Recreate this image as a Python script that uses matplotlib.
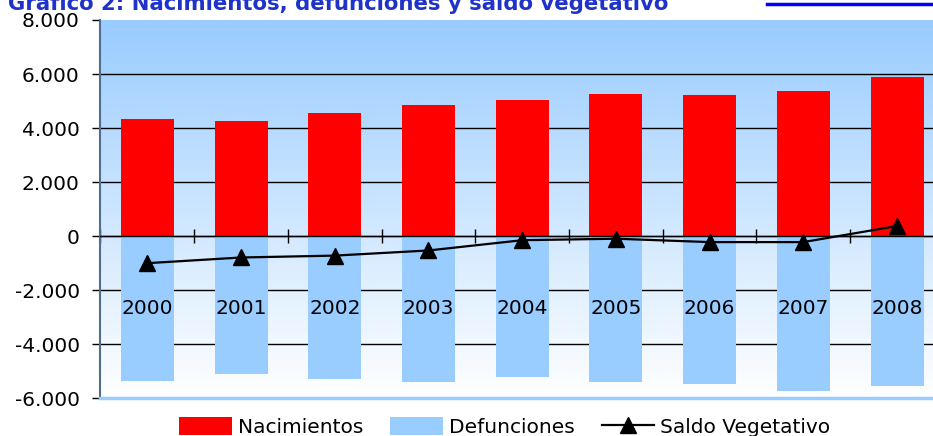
import numpy as np
import matplotlib
matplotlib.use("Agg")
import matplotlib.pyplot as plt
from matplotlib.patches import Patch
from matplotlib.lines import Line2D
from matplotlib.ticker import FuncFormatter, FixedLocator

years = ["2000", "2001", "2002", "2003", "2004", "2005", "2006", "2007", "2008"]
nacimientos = [4344, 4270, 4567, 4863, 5048, 5270, 5233, 5381, 5900]
defunciones = [-5348, -5089, -5274, -5385, -5200, -5385, -5459, -5718, -5533]
saldo = [-1000, -790, -720, -530, -150, -95, -220, -220, 375]

title = "Gráfico 2: Nacimientos, defunciones y saldo vegetativo"
ymin, ymax = -6000, 8000

plt.rcParams['font.family'] = ['DejaVu Sans']

fig = plt.figure(figsize=(9.33, 4.36), dpi=100)
ax = fig.add_axes([0.1077, 0.0865, 0.904, 0.8677])

x = np.arange(len(years))
ax.set_xlim(-0.5, len(years) - 0.5)
ax.set_ylim(ymin, ymax)

# gradient background
grad = np.linspace(0, 1, 256)[:, None]
top = np.array([153, 204, 255]) / 255.0
bot = np.array([255, 255, 255]) / 255.0
img = top[None, None, :] * (1 - grad[:, :, None]) + bot[None, None, :] * grad[:, :, None]
ax.imshow(img, extent=(-0.5, len(years) - 0.5, ymin, ymax), aspect='auto',
          origin='upper', zorder=0, interpolation='bilinear')

ax.set_axisbelow(True)
ax.bar(x, nacimientos, width=0.566, color='#FF0000', zorder=1)
ax.bar(x, defunciones, width=0.566, color='#99CCFF', zorder=1)
ax.plot(x, saldo, color='black', lw=1.6, marker='^', markersize=11, zorder=4, clip_on=False)

# y axis
ax.yaxis.set_major_locator(FixedLocator(np.arange(ymin, ymax + 1, 2000)))
ax.yaxis.set_major_formatter(FuncFormatter(lambda v, p: f"{v:,.0f}".replace(",", ".")))
ax.tick_params(axis='y', direction='out', length=6, width=1, pad=9, labelsize=14.5,
               colors='black')
ax.yaxis.grid(True, color='black', lw=1)
for gl, v in zip(ax.get_ygridlines(), np.arange(ymin, ymax + 1, 2000)):
    if v in (ymin, ymax):
        gl.set_visible(False)

# x axis at zero with crossing ticks at category boundaries
ax.spines['bottom'].set_position(('data', 0))
ax.spines['bottom'].set_color('black')
ax.spines['bottom'].set_linewidth(1)
ax.spines['bottom'].set_zorder(2.5)
ax.set_xticks(np.arange(-0.5, len(years) + 0.5, 1))
ax.tick_params(axis='x', direction='inout', length=10, width=1, labelbottom=False,
               colors='black')
ax.spines['top'].set_visible(False)
ax.spines['right'].set_visible(False)
ax.spines['left'].set_color('#4F6D8F')
ax.spines['left'].set_linewidth(1.5)
ax.axhline(ymin, color='#99CCFF', lw=2.5, zorder=2.6, clip_on=False)

label_y = -2880
for xi, yr in zip(x, years):
    ax.text(xi, label_y, yr, ha='center', va='baseline', fontsize=14.5, color='black', zorder=5)

# title (cut off at top) and header rule
fig.text(0.009, 1 - 10 / 436, title, ha='left', va='baseline', fontsize=15.3,
         fontweight='bold', color='#1F33C8')
fig.add_artist(Line2D([0.822, 1.0], [1 - 4 / 436, 1 - 4 / 436], color='#0000FF', lw=2.5,
                      transform=fig.transFigure))

handles = [Patch(facecolor='#FF0000', edgecolor='none', label='Nacimientos'),
           Patch(facecolor='#99CCFF', edgecolor='none', label='Defunciones'),
           Line2D([], [], color='black', lw=1.6, marker='^', markersize=11, label='Saldo Vegetativo')]
fig.legend(handles=handles, loc='center', bbox_to_anchor=(0.541, 0.020), ncol=3,
           frameon=False, fontsize=14.5, handlelength=2.6, handletextpad=0.3,
           columnspacing=1.35, handleheight=1.0, borderpad=0, borderaxespad=0)

fig.savefig('out.png', dpi=100)
